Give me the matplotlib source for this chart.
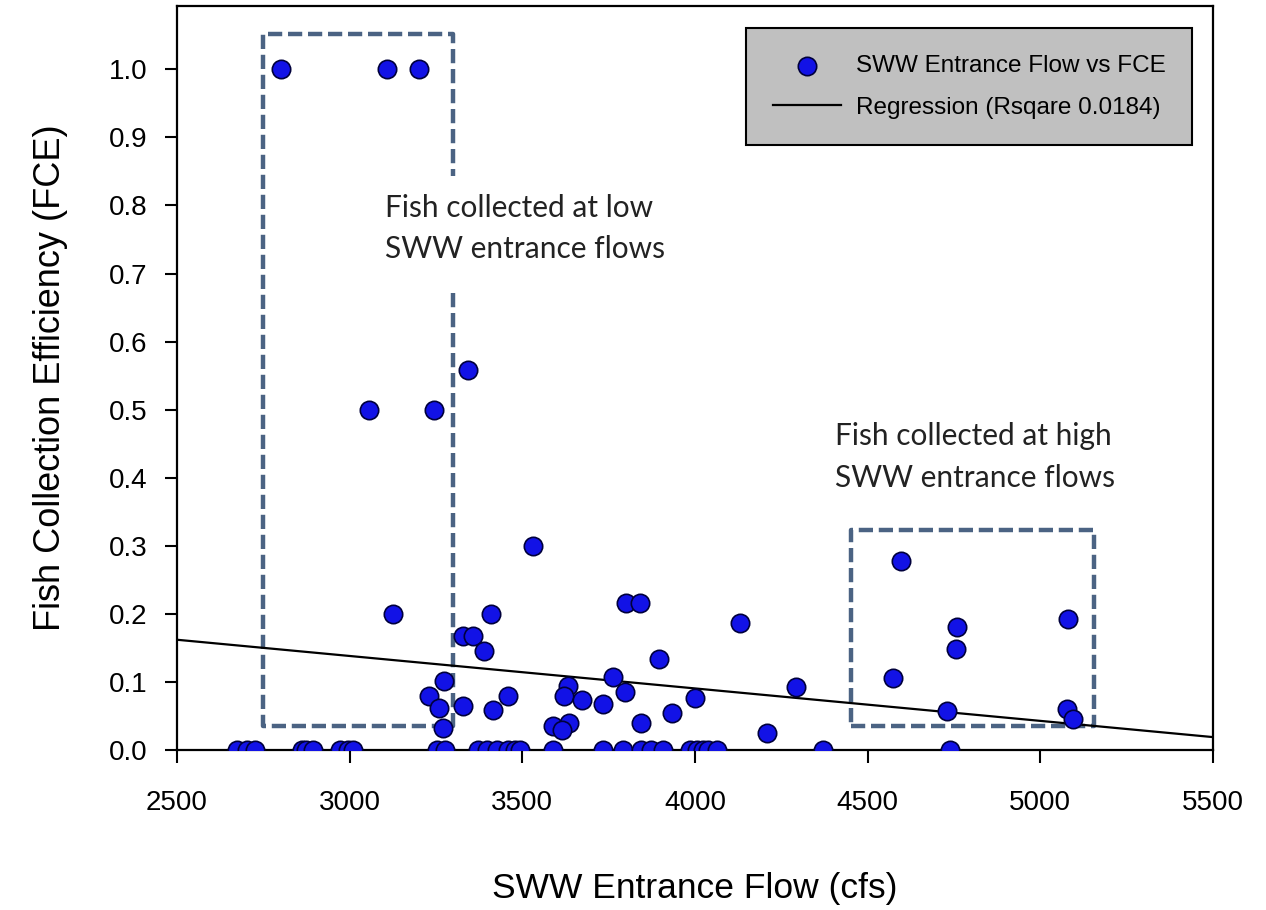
import numpy as np
import matplotlib
matplotlib.use("Agg")
import matplotlib.pyplot as plt

plt.rcParams['font.family'] = ['Liberation Sans', 'DejaVu Sans']
NOTE = ['Lato', 'DejaVu Sans']

# Datos: caudal de entrada SWW (cfs) y eficiencia FCE
flow_zero = [2675, 2702, 2726, 2861, 2875, 2895, 2972, 2996, 3011, 3252, 3276,
             3373, 3397, 3426, 3460, 3479, 3493, 3588, 3735, 3793, 3845, 3874,
             3908, 3986, 4005, 4024, 4039, 4063, 4372, 4739]
fce_zero = [0.0] * len(flow_zero)

flow_pos = [2800, 3108, 3201, 3056, 3244, 3343, 3531, 3127, 3408, 3329, 3358,
            3389, 3274, 3229, 3260, 3329, 3416, 3460, 3269, 3800, 3841, 4130,
            3895, 3762, 4294, 3633, 3621, 3672, 3735, 3798, 4000, 3933, 3843,
            3590, 3636, 3614, 4208, 4574, 4598, 4760, 4756, 5081, 4731, 5078,
            5094]
fce_pos = [1.0, 1.0, 1.0, 0.50, 0.50, 0.558, 0.30, 0.20, 0.20, 0.168, 0.168,
           0.145, 0.102, 0.079, 0.062, 0.065, 0.059, 0.079, 0.033, 0.216, 0.216,
           0.187, 0.134, 0.107, 0.093, 0.094, 0.079, 0.073, 0.068, 0.085, 0.076,
           0.055, 0.039, 0.035, 0.039, 0.030, 0.025, 0.106, 0.278, 0.181, 0.148,
           0.192, 0.058, 0.060, 0.045]

flow = np.array(flow_zero + flow_pos)
fce = np.array(fce_zero + fce_pos)

# Recta de regresión (extremos)
reg_x = [2500, 5500]
reg_y = [0.162, 0.019]

# Recuadros punteados: (x0, x1, y0, y1)
box_low = (2750, 3300, 0.036, 1.052)
box_low_gap = (0.671, 0.844)   # hueco en el lado derecho para el texto
box_high = (4453, 5155, 0.036, 0.323)

fig = plt.figure(figsize=(12.66, 9.1), dpi=100)
ax = fig.add_axes([0.1398, 0.1758, 0.8182, 0.8176])

dash_kw = dict(color="#4b6383", linewidth=3.2, linestyle=(0, (3.2, 1.3)),
               zorder=1)

x0, x1, y0, y1 = box_low
ax.plot([x1, x1, x0, x0, x1, x1], [box_low_gap[0], y0, y0, y1, y1, box_low_gap[1]],
        **dash_kw)

x0, x1, y0, y1 = box_high
ax.plot([x0, x1, x1, x0, x0], [y0, y0, y1, y1, y0], **dash_kw)

ax.plot(reg_x, reg_y, color="black", linewidth=1.6, zorder=2,
        label="Regression (Rsqare 0.0184)")
ax.scatter(flow, fce, s=175, facecolor="#1212e6", edgecolor="#00003c",
           linewidth=1.2, zorder=3, label="SWW Entrance Flow vs FCE")

ax.text(3102, 0.766, "Fish collected at low\nSWW entrance flows",
        family=NOTE, fontsize=21.5, color="#222222",
        va="center", ha="left", linespacing=1.6)
ax.text(4405, 0.430, "Fish collected at high\nSWW entrance flows",
        family=NOTE, fontsize=21.5, color="#222222",
        va="center", ha="left", linespacing=1.6)

ax.set_xlim(2500, 5500)
ax.set_ylim(0, 1.093)
ax.set_xticks(np.arange(2500, 5501, 500))
yt = np.arange(0, 1.01, 0.1)
ax.set_yticks(yt)
ax.set_yticklabels([f"{v:.1f}" for v in yt])

for s in ax.spines.values():
    s.set_linewidth(1.6)
ax.tick_params(axis="both", direction="out", length=9, width=1.5,
               labelsize=20)
ax.tick_params(axis="y", pad=12)
ax.tick_params(axis="x", pad=20)

ax.set_xlabel("SWW Entrance Flow (cfs)", fontsize=25.5, labelpad=40)
ax.set_ylabel("Fish Collection Efficiency (FCE)", fontsize=26, labelpad=30)

handles, labels = ax.get_legend_handles_labels()
leg = ax.legend(handles[::-1], labels[::-1], loc="upper right",
                bbox_to_anchor=(0.980, 0.970), frameon=True, fontsize=17.5,
                fancybox=False, framealpha=1, facecolor="#c0c0c0",
                edgecolor="black", handlelength=2.8, handletextpad=0.6,
                labelspacing=0.8, borderpad=1.1, borderaxespad=0,
                scatterpoints=1)
leg.get_frame().set_linewidth(1.5)

fig.savefig("out.png", dpi=100)
